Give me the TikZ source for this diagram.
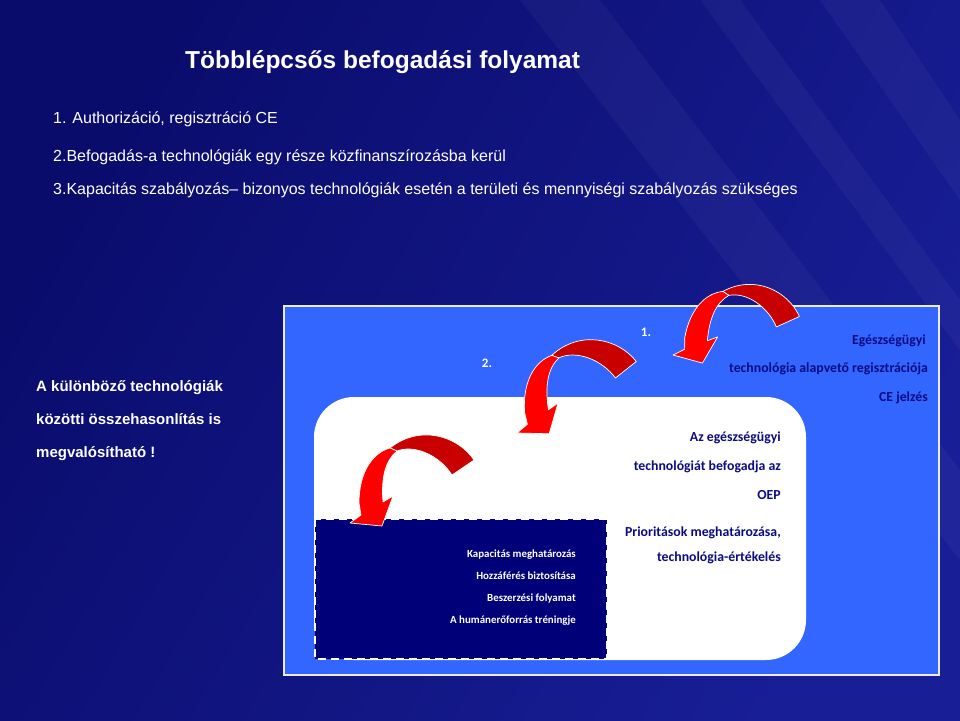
\documentclass[tikz,border=0pt]{standalone}
\usepackage{fontspec}
\setmainfont{Liberation Sans}
\newfontfamily\calibri{Carlito}

\definecolor{bgDark}{RGB}{10,12,108}
\definecolor{bgLight}{RGB}{24,30,150}
\definecolor{panelBlue}{RGB}{51,102,255}
\definecolor{navyText}{RGB}{12,12,130}
\definecolor{navyBox}{RGB}{0,0,120}
\definecolor{redFront}{RGB}{255,0,0}
\definecolor{redBack}{RGB}{200,0,0}

% bent red arrow, origin at the left tip of the head
\tikzset{
curvedArrow/.pic={
\filldraw[arrowBack] (124,-63) .. controls (108,-87) and (70,-99) .. (40,-75)
  -- (47,-72) .. controls (65,-79) and (90,-67) .. (102,-48) -- cycle;
\filldraw[arrowFront] (40,-75) .. controls (22,-70) and (9,-50) .. (9,-20)
  -- (11,-8) -- (0,0) -- (32,3) -- (43,-27) -- (33,-21)
  .. controls (31,-45) and (35,-62) .. (47,-72) -- cycle;
}
}

\begin{document}
\begin{tikzpicture}[x={(1pt,0pt)}, y={(0pt,-1pt)}]

% styles
\tikzstyle{titleText}=[anchor=base west, text=white, inner sep=0, font=\bfseries\fontsize{24.5}{28}\selectfont]
\tikzstyle{listText}=[anchor=base west, text=white, inner sep=0, font=\fontsize{16}{19}\selectfont]
\tikzstyle{noteText}=[anchor=base west, text=white, inner sep=0, font=\bfseries\fontsize{15}{18}\selectfont]
\tikzstyle{panelText}=[anchor=base east, text=navyText, inner sep=0, font=\calibri\bfseries\fontsize{13.8}{16}\selectfont]
\tikzstyle{stepText}=[anchor=base east, text=white, inner sep=0, font=\calibri\bfseries\fontsize{10.9}{13}\selectfont]
\tikzstyle{numText}=[text=white, inner sep=0, font=\calibri\bfseries\fontsize{13}{16}\selectfont]
\tikzstyle{arrowFront}=[fill=redFront, draw=white, line width=0.7, line join=round]
\tikzstyle{arrowBack}=[fill=redBack, draw=white, line width=0.7, line join=round]
\tikzstyle{streak}=[fill=white, opacity=0.035]

% background
\useasboundingbox (0,0) rectangle (960,720);
\shade[left color=bgDark, right color=bgLight, shading angle=60] (0,0) rectangle (960,720);
\fill[streak] (520,0) -- (600,0) -- (960,470) -- (960,560) -- cycle;
\fill[streak] (700,0) -- (740,0) -- (960,300) -- (960,350) -- cycle;
\fill[streak] (820,0) -- (880,0) -- (960,120) -- (960,200) -- cycle;

% panels
\draw[fill=panelBlue, draw=white!85!gray, line width=1.5] (284,306) rectangle (939,675);
\fill[white, rounded corners=40] (314,397) rectangle (806,660);
\draw[fill=navyBox, draw=white, line width=2.5, dash pattern=on 8 off 5] (315,519) rectangle (607,659);

% arrows
\pic[rotate=-10, scale=0.95] at (673,355) {curvedArrow};
\pic[rotate=4] at (517,433) {curvedArrow};
\pic at (350,523) {curvedArrow};

% texts
\node[titleText] (title) at (185,68) {Többlépcsős befogadási folyamat};
\node[listText] (item1) at (53,123) {1. Authorizáció, regisztráció CE};
\node[listText] (item2) at (53,161) {2.Befogadás-a technológiák egy része közfinanszírozásba kerül};
\node[listText] (item3) at (53,194) {3.Kapacitás szabályozás– bizonyos technológiák esetén a területi és mennyiségi szabályozás szükséges};

\node[noteText] (note1) at (36,391) {A különböző technológiák};
\node[noteText] (note2) at (36,424) {közötti összehasonlítás is};
\node[noteText] (note3) at (36,457) {megvalósítható !};

\node[numText] (num1) at (646,332) {1.};
\node[numText] (num2) at (487,363) {2.};

\node[panelText] (reg1) at (926,344) {Egészségügyi};
\node[panelText] (reg2) at (928,372) {technológia alapvető regisztrációja};
\node[panelText] (reg3) at (928,401) {CE jelzés};

\node[panelText] (oep1) at (781,441) {Az egészségügyi};
\node[panelText] (oep2) at (781,470) {technológiát befogadja az};
\node[panelText] (oep3) at (781,499) {OEP};
\node[panelText] (prio1) at (781,536) {Prioritások meghatározása,};
\node[panelText] (prio2) at (781,561) {technológia-értékelés};

\node[stepText] (cap1) at (576,557) {Kapacitás meghatározás};
\node[stepText] (cap2) at (576,579) {Hozzáférés biztosítása};
\node[stepText] (cap3) at (576,601) {Beszerzési folyamat};
\node[stepText] (cap4) at (576,623) {A humánerőforrás tréningje};

\end{tikzpicture}
\end{document}
